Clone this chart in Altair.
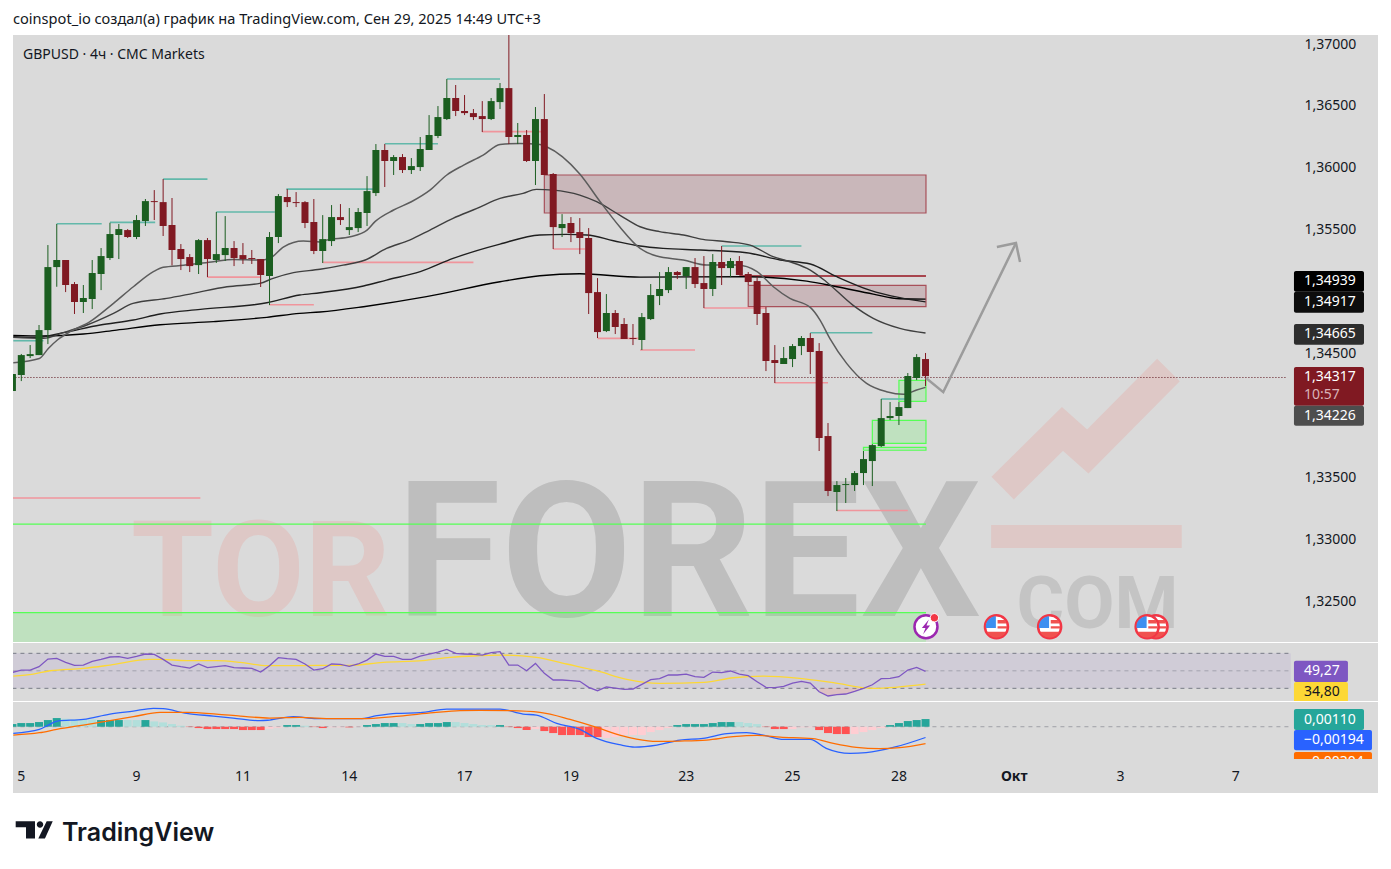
import altair as alt
import pandas as pd

FONT = "Noto Sans"
BG = "#dadada"
GREEN = "#1b5e20"
RED = "#801922"

# ---------- candles (price in 1e-5 units) ----------
open_ = [134197,134326,134479,134487,134689,135198,135255,135061,134916,134940,135142,135271,135457,135497,135441,135570,135731,135723,135538,135344,135279,135214,135416,135255,135295,135352,135295,135271,135263,135126,135441,135764,135723,135723,135562,135328,135408,135602,135497,135513,135635,135796,136144,136055,136087,135982,136006,136144,136257,136394,136564,136459,136442,136418,136394,136531,136644,136249,136265,136055,136394,135950,135513,135554,135481,135433,134996,134681,134827,134738,134625,134609,134778,134964,135012,135158,135126,135198,135069,135021,135239,135190,135247,135142,135085,134827,134447,134415,134455,134560,134625,134520,133833,133381,133437,133437,133534,133631,133752,133978,133995,134059,134302,134455]
close = [134334,134487,134495,134689,135198,135255,135053,134916,134948,135150,135287,135465,135505,135441,135578,135731,135723,135530,135336,135263,135206,135416,135263,135303,135352,135271,135263,135263,135134,135441,135772,135723,135715,135554,135328,135424,135602,135578,135521,135643,135812,136144,136055,136087,135982,136014,136152,136265,136410,136564,136459,136442,136410,136394,136539,136644,136249,136265,136055,136394,135942,135521,135546,135473,135433,134988,134673,134827,134714,134617,134617,134794,134972,135021,135158,135134,135198,135061,135021,135239,135190,135247,135134,135077,134819,134439,134423,134463,134560,134625,134512,133817,133389,133437,133445,133534,133647,133760,133978,133995,134067,134318,134471,134317]
high = [134334,134496,134568,134730,135376,135546,135255,135077,135053,135255,135352,135556,135546,135505,135618,135748,135820,135909,135756,135384,135303,135424,135433,135643,135610,135408,135392,135336,135263,135481,135788,135828,135804,135731,135748,135618,135699,135707,135675,135675,135933,136192,136192,136103,136111,136079,136249,136426,136499,136717,136669,136588,136475,136539,136564,136685,137100,136362,136305,136491,136596,135958,135626,135602,135594,135513,135109,134980,134851,134786,134738,134827,135061,135158,135198,135166,135198,135271,135287,135303,135368,135271,135287,135158,135117,134875,134568,134552,134576,134641,134665,134584,133938,133469,133494,133550,133712,133768,134132,134108,134108,134342,134495,134504]
low = [134197,134277,134463,134487,134576,135039,134996,134819,134827,134859,135012,135255,135263,135433,135424,135530,135578,135449,135212,135174,135158,135142,135117,135231,135247,135206,135223,135223,135037,134891,135392,135683,135683,135513,135303,135231,135368,135538,135457,135481,135530,135772,135845,135942,135958,135950,135974,136144,136240,136386,136418,136426,136386,136289,136386,136475,136192,136192,136047,135861,135942,135344,135441,135400,135303,134819,134625,134673,134657,134617,134568,134528,134770,134891,134988,135101,135021,135029,134867,134964,135053,135117,135134,135053,134730,134358,134261,134415,134390,134487,134334,133712,133348,133227,133292,133389,133437,133429,133744,133962,133922,134059,134285,134237]
bar_index = list(range(-1, len(open_) - 1))

# ---------- moving averages ----------
ma1_x = [-0.9,2.04,3.05,4.07,5.5,7.75,10.4,12.64,14.9,16,18.3,21.66,23.9,26.9,28,29.6,31.8,33.7,34.4,37.1,39,39.9,42,44,46.1,48,49.9,52.1,54,56.25,58.5,59.25,63,65.3,67.5,69.8,71.67,74.68,77.3,80.7,83,84.83,86.7,89,90.1,91.2,93.1,95.35,97.6,99.5,101,102]
ma1_y = [134425,134460,134541,134609,134676,134757,134905,135039,135161,135196,135212,135241,135260,135255,135268,135362,135408,135400,135416,135443,135497,135565,135659,135726,135820,135942,136022,136103,136189,136197,136189,136170,135950,135726,135524,135349,135287,135255,135214,135214,135161,135039,134945,134872,134770,134622,134420,134258,134191,134170,134205,134226]
ma2_x = [-0.9,2.5,4.74,7.4,10.4,12.6,16.4,19.4,23.2,26.9,28.4,30.7,33.7,36.3,38.8,41.2,43.8,46.1,48.7,51.4,54,56.6,58.1,60,63,64.9,67.5,69.8,72,74.7,76.9,79.6,82.2,84.8,86.7,89,90.8,93.8,96.1,99.1,102]
ma2_y = [134630,134622,134668,134730,134824,134905,134945,134986,135039,135066,135107,135153,135180,135214,135255,135349,135416,135497,135592,135672,135753,135793,135826,135820,135780,135726,135618,135524,135484,135457,135422,135403,135376,135282,135241,135174,135080,134891,134784,134703,134665]
ma3_x = [-0.9,1.7,4.74,8.9,12.64,15.65,20.2,27.7,31.4,33.7,38.6,41.2,45,48.7,54,58.5,61.5,63.8,66.8,69.8,72.4,76.6,81.8,85.6,89,92,95.7,99.1,102]
ma3_y = [134635,134630,134668,134730,134770,134819,134856,134910,134972,134991,135045,135093,135161,135268,135384,135457,135462,135457,135411,135368,135349,135336,135314,135255,135223,135120,135012,134951,134917]
ma4_x = [-0.9,2.5,7,10.75,15.65,21.66,27.7,31.4,33.7,38.6,45.7,54,58.5,63,69.8,81.8,88.6,92,96.1,99.1,102]
ma4_y = [134646,134641,134657,134689,134732,134757,134792,134824,134835,134878,134959,135080,135128,135144,135117,135120,135085,135039,134980,134942,134939]

# ---------- liquidity segments: start, end, price ----------
teal_x1 = [-0.9,3.99,10,16,22,29.9,41,48,79,89,97]
teal_x2 = [2.5,9.07,15.1,21,28.6,39.7,47,54,88,96,99.9]
teal_y = [134603,135548,135559,135909,135643,135828,136195,136717,135368,134668,134132]
pink_x1 = [21,28,34,52,60,65,69.8,77,85,92,-1]
pink_x2 = [27,33,51,58.6,63.6,69.8,76,84,91,100,20.2]
pink_y = [135117,134894,135236,136292,135344,134622,134528,134867,134264,133232,133332]

# ---------- zones: x1, x2, top, bottom ----------
red_zone_x1 = [59,82]
red_zone_x2 = [102.05,102.05]
red_zone_top = [135942,135051]
red_zone_bot = [135635,134878]
green_zone_x1 = [99,96,95]
green_zone_x2 = [102.05,102.05,102.05]
green_zone_top = [134283,133960,133742]
green_zone_bot = [134113,133774,133718]
support_top = 132407
support_bot = 132100

# ---------- hand-drawn arrow ----------
arrow_x = [102.05,104,112.2]
arrow_y = [134302,134188,135392]
head_x = [110.05,112.2,112.66]
head_y = [135360,135392,135239]

# ---------- watermark ----------
wm_big = "FOREX"
wm_big_x = 75.3
wm_big_base = 132380
wm_red = "TOR"
wm_red_x = 27
wm_red_base = 132380
wm_com = "COM"
wm_com_x = 121.4
wm_com_base = 132285
wm_arrow_x = [110.7,117.45,120.3,129.4]
wm_arrow_y = [133413,133890,133708,134366]

# ---------- price axis and badges ----------
price_ticks = [1.37,1.365,1.36,1.355,1.345,1.335,1.33,1.325]
badge_text = ["1,34939","1,34917","1,34665","1,34317","1,34226"]
badge_top = [135166,134999,134738,134390,134078]
badge_bot = [134999,134829,134571,134078,133916]
badge_mid = [135083,134914,134654,134310,133997]
badge_fill = ["#000000","#0d0d0d","#2d2d2d",RED,"#4d4d4d"]
last_price = 134306
countdown = "10:57"
countdown_y = 134164

# ---------- event icons ----------
flag_back = [128]
flag_front = [110,116,127]
bolt_x = [102.05]
icon_price = 132292

# ---------- RSI ----------
rsi = [48.2,50.9,50.9,54.7,63.5,64.2,59.7,56.2,56.6,60.8,63.1,65.8,66.2,64.2,66.5,69.2,68.8,63.1,56.6,54.7,53.2,57.8,53.6,54.7,55.9,53.6,53.2,52.8,48.6,55.9,65,63.9,63.1,57.8,50.9,52.4,57.8,57.4,55.1,57.8,62.3,69.2,66.5,66.5,63.1,63.1,66.9,69.2,71.5,74.5,70,69.2,68.8,68,70.7,71.9,56.6,56.6,50.1,58.5,47.1,39.5,39.5,38.7,38,31.1,27.3,31.5,30.3,28.8,29.2,34.5,39.9,41,45.2,45.2,46.3,43.3,42.5,48.6,47.9,49.8,46.3,44.4,37.6,31.1,30.7,32.2,36,38,36,26.1,21.2,22.7,23.5,26.5,30,34.1,41,41.4,43.3,50.9,54,49.3]
rsi_ma_x = [-0.9,1.36,3.24,7,10,14.5,15.65,18.65,22,24.7,27.7,30.3,33.3,37,40.8,45.3,48.35,51.7,54,58.1,61.5,64.9,68.3,72,77,80.3,83.7,87.8,91.6,96.1,102]
rsi_ma_y = [44,46.3,50.1,52.8,56.6,63.1,63.1,61.6,61.6,59.7,55.9,55.9,56.2,56.2,59.7,61.6,65.4,67.3,68,65.4,57.8,50.1,40.2,35.7,36.8,42.1,44,41.4,36.4,30,34.8]

# ---------- MACD (1e-5 units) ----------
hist = [48,66,66,84,120,156,144,132,132,132,120,120,120,120,120,120,96,78,48,18,-6,-24,-42,-42,-42,-42,-60,-60,-60,-36,-18,30,30,18,-6,-24,-12,-12,-12,-6,30,48,66,66,66,48,48,66,66,84,84,66,48,30,30,30,-6,-24,-60,-42,-78,-114,-150,-150,-150,-186,-186,-204,-186,-150,-150,-150,-96,-60,-24,30,48,48,48,66,84,84,84,66,48,-6,-42,-42,-42,-12,-12,-60,-114,-132,-132,-132,-96,-60,-24,30,66,102,120,138]
hist_kind = list("T"*6 + "LLLL" + "TTT" + "LL" + "T" + "LLLL" + "R"*9 + "PP" + "TT" + "L" + "RR" + "PP" + "R" + "P" + "TTTT" + "LL" + "TTTT" + "LLLLL" + "T" + "RRR" + "P" + "R"*7 + "P"*8 + "T"*7 + "LLL" + "RRR" + "PPP" + "RRRR" + "PPPP" + "T"*5)
hist_palette = {"T":"#26a69a","L":"#b2dfdb","R":"#ff5252","P":"#ffcdd2"}
macd_x = [-0.9,2.04,3.05,4.07,7,10,12.64,14.9,16,18.65,21.66,23.9,26.9,28,30.7,33.3,38.2,40.1,42.3,45,48,51.7,54,56.6,58.1,60.4,63,64.9,67.5,69.2,71.7,74.3,76.9,79.6,81.8,83.7,86,89,90.8,93.5,95.3,98.7,102]
macd_y = [-120,-48,30,102,132,228,282,330,324,240,192,156,108,120,180,144,144,198,240,252,318,318,318,228,210,60,-48,-210,-324,-366,-330,-240,-210,-126,-108,-150,-228,-228,-390,-480,-468,-360,-194]
signal_x = [-0.9,2.04,4,7,10,12.64,15.65,18.65,22,24.7,28,31.4,35.2,38.2,42.7,46.5,49.5,51.7,55.1,58.5,61.9,64.9,67.5,69.4,71.7,74.3,77.3,80.3,83,85.6,89.3,91.6,94.2,96.8,99.1,102]
signal_y = [-150,-108,-48,30,108,180,258,258,228,192,156,168,144,144,192,252,288,294,288,258,132,-12,-150,-222,-264,-258,-240,-180,-156,-186,-216,-300,-372,-396,-378,-304]

# ---------- time labels ----------
time_x = [0,13,25,37,50,62,75,87,99,124,137]
time_labels = ["5","9","11","14","17","19","23","25","28","3","7"]
month_x = [112]
month_labels = ["Окт"]

# ===========================================================
X_DOMAIN = [-0.936, 153.04]
W = 1365
RIGHT_X1, RIGHT_TXT = 143.56, 144.69
xs = alt.Scale(domain=X_DOMAIN, nice=False, zero=False, padding=0)
X = alt.X("x:Q", scale=xs, axis=None)
X2 = alt.X2("x2:Q")
yp = alt.Scale(domain=[1.32169, 1.37073], nice=False, zero=False, padding=0)
YP = alt.Y("y:Q", scale=yp, axis=None)
YP2 = alt.Y2("y2:Q")
p = lambda v: [a / 1e5 for a in v]

candles = pd.DataFrame({"x": bar_index, "o": p(open_), "c": p(close), "h": p(high), "l": p(low)})
candles["col"] = [GREEN if c >= o else RED for o, c in zip(open_, close)]

def df(**k):
    return pd.DataFrame(k)

def segs(x1, x2, y):
    return df(x=x1, x2=x2, y=p(y))

def line(x, y, color, w):
    return alt.Chart(df(x=x, y=p(y))).mark_line(color=color, strokeWidth=w, interpolate="monotone", clip=True).encode(X, YP)

def wm_text(word, x, base, size, color):
    return alt.Chart(df(x=[x], y=[base / 1e5], t=[word])).mark_text(
        font="Roboto", fontWeight="bold", fontSize=size, color=color, align="center",
        baseline="alphabetic", clip=True).encode(X, YP, text="t:N")

watermark = [
    wm_text(wm_red, wm_red_x, wm_red_base, 134, "#dec8c6"),
    wm_text(wm_big, wm_big_x, wm_big_base, 190, "#bebebe"),
    wm_text(wm_com, wm_com_x, wm_com_base, 73, "#c4c4c4"),
    alt.Chart(df(x=wm_arrow_x, y=p(wm_arrow_y))).mark_line(color="#dec8c6", strokeWidth=32, strokeCap="butt", strokeJoin="miter", clip=True).encode(X, YP),
    alt.Chart(df(x=[109.4], x2=[130.9], y=[1.33114], y2=[1.32928])).mark_rect(color="#dec8c6", clip=True).encode(X, X2, YP, YP2),
]

def zones(x1, x2, t, b, fill, op, stroke):
    return alt.Chart(df(x=x1, x2=x2, y=p(t), y2=p(b))).mark_rect(
        fill=fill, fillOpacity=op, stroke=stroke, strokeWidth=1.2, clip=True).encode(X, X2, YP, YP2)

zone_layers = [
    alt.Chart(df(x=[-1], x2=[102.05], y=[support_top / 1e5], y2=[support_bot / 1e5])).mark_rect(fill="#55ff55", fillOpacity=0.2, clip=True).encode(X, X2, YP, YP2),
    zones(red_zone_x1, red_zone_x2, red_zone_top, red_zone_bot, "#7f1d2a", 0.18, "#a8505a"),
    zones(green_zone_x1, green_zone_x2, green_zone_top, green_zone_bot, "#55ff55", 0.2, "#55ff55"),
]
other_lines = [
    alt.Chart(df(x=[81], x2=[102.05], y=[1.35126])).mark_rule(color="#a8454e", strokeWidth=2, clip=True).encode(X, X2, YP),
    alt.Chart(df(x=[-1, -1], x2=[102.05, 102.05], y=[1.33122, support_top / 1e5])).mark_rule(color="#55ff55", strokeWidth=1.2, clip=True).encode(X, X2, YP),
    alt.Chart(segs(teal_x1, teal_x2, teal_y)).mark_rule(color="#62b8aa", strokeWidth=1.6, clip=True).encode(X, X2, YP),
    alt.Chart(segs(pink_x1, pink_x2, pink_y)).mark_rule(color="#f0959c", strokeWidth=1.6, clip=True).encode(X, X2, YP),
]
ma_layers = [line(ma4_x, ma4_y, "#000000", 1.4), line(ma3_x, ma3_y, "#1f1f1f", 1.4),
             line(ma2_x, ma2_y, "#3f3f3f", 1.4), line(ma1_x, ma1_y, "#5c5c5c", 1.5)]

wicks = alt.Chart(candles).mark_rule(strokeWidth=1, clip=True).encode(
    X, alt.Y("l:Q", scale=yp, axis=None), alt.Y2("h:Q"), alt.Color("col:N", scale=None))
bodies = alt.Chart(candles).mark_bar(size=7, clip=True).encode(
    X, alt.Y("o:Q", scale=yp, axis=None), alt.Y2("c:Q"), alt.Color("col:N", scale=None))

arrow = [
    alt.Chart(df(x=arrow_x, y=p(arrow_y))).mark_line(color="#9c9c9c", strokeWidth=2.5, clip=True).encode(X, YP),
    alt.Chart(df(x=head_x, y=p(head_y))).mark_line(color="#9c9c9c", strokeWidth=2.5, clip=True).encode(X, YP),
]

# price axis (real axis pulled inside the pane)
axis_layer = alt.Chart(df(x=[0], y=[1.35])).mark_point(opacity=0).encode(
    X,
    alt.Y("y:Q", scale=yp, title=None, axis=alt.Axis(
        orient="right", offset=-74, values=price_ticks, domain=False, ticks=False, grid=False,
        labelAlign="left", labelPadding=0, labelFontSize=14, labelFont=FONT, labelColor="#131722",
        labelExpr="replace(format(datum.value,'.5f'),'.',',')")))

last_line = alt.Chart(df(x=[-1], x2=[142.7], y=[last_price / 1e5])).mark_rule(
    color="#5a0f18", strokeWidth=1, strokeDash=[1, 2], clip=True).encode(X, X2, YP)

badges = [
    alt.Chart(df(x=[RIGHT_X1] * 5, x2=[151.46] * 5, y=p(badge_top), y2=p(badge_bot), f=badge_fill)).mark_rect(cornerRadius=2, clip=True).encode(
        X, X2, YP, YP2, alt.Color("f:N", scale=None)),
    alt.Chart(df(x=[RIGHT_TXT] * 5, y=p(badge_mid), t=badge_text)).mark_text(
        font=FONT, fontSize=14, color="white", align="left", baseline="middle", clip=True).encode(X, YP, text="t:N"),
    alt.Chart(df(x=[RIGHT_TXT], y=[countdown_y / 1e5], t=[countdown])).mark_text(
        font=FONT, fontSize=14, color="#d9b3b8", align="left", baseline="middle", clip=True).encode(X, YP, text="t:N"),
]

# icons
CANTON = "M-0.05,-0.95 A0.95,0.95 0 0 0 -0.95,0.1 L-0.05,0.1 Z"
STRIPES = "M0.1,-0.6 L0.75,-0.6 L0.9,-0.3 L0.1,-0.3 Z M0.1,-0.05 L0.95,-0.05 L0.95,0.15 L0.1,0.15 Z M-0.85,0.45 L0.85,0.45 A0.95,0.95 0 0 1 -0.85,0.45 Z"
BOLT = "M0.28,-0.72 L-0.4,0.12 L-0.05,0.12 L-0.28,0.72 L0.4,-0.12 L0.05,-0.12 Z"

def flags(xlist):
    d = df(x=xlist, y=[icon_price / 1e5] * len(xlist))
    return [
        alt.Chart(d).mark_point(shape="circle", filled=True, fill="white", stroke="#f23645", strokeWidth=2.5, size=530, opacity=1, clip=True).encode(X, YP),
        alt.Chart(d).mark_point(shape=CANTON, filled=True, color="#3d8ff0", size=500, opacity=1, strokeWidth=0, clip=True).encode(X, YP),
        alt.Chart(d).mark_point(shape=STRIPES, filled=True, color="#f0524f", size=500, opacity=1, strokeWidth=0, clip=True).encode(X, YP),
    ]

bd = df(x=bolt_x, y=[icon_price / 1e5])
bolt = [
    alt.Chart(bd).mark_point(shape="circle", filled=True, fill="white", stroke="#9c27b0", strokeWidth=2.5, size=530, opacity=1, clip=True).encode(X, YP),
    alt.Chart(bd).mark_point(shape=BOLT, filled=True, color="#9c27b0", size=420, opacity=1, strokeWidth=0, clip=True).encode(X, YP),
    alt.Chart(df(x=[103], y=[1.32365])).mark_point(shape="circle", filled=True, fill="#f23645", stroke="white", strokeWidth=1, size=70, opacity=1, clip=True).encode(X, YP),
]

sym = alt.Chart(df(t=["GBPUSD · 4ч · CMC Markets"])).mark_text(
    font=FONT, fontSize=14, color="#131722", align="left", baseline="middle", clip=True).encode(
    x=alt.value(10), y=alt.value(20), text="t:N")

pane = alt.ViewBackground(fill=BG, stroke=None)
plain = alt.ViewBackground(fill="white", stroke=None)

main = alt.layer(axis_layer, *watermark, *zone_layers, *other_lines, *ma_layers, last_line, wicks, bodies, *arrow,
                 *badges, *flags(flag_back), *flags(flag_front), *bolt, sym
                 ).resolve_axis(y="independent").properties(width=W, height=607, view=pane)

# RSI pane
yr = alt.Scale(domain=[15.5, 81.8], nice=False, zero=False, padding=0)
YR = alt.Y("y:Q", scale=yr, axis=None)
YR2 = alt.Y2("y2:Q")
rsi_df = df(x=bar_index, y=rsi)
rsi_panel = alt.layer(
    alt.Chart(df(x=[-1], x2=[143.2], y=[70], y2=[30])).mark_rect(color="#7e57c2", opacity=0.1, clip=True).encode(X, X2, YR, YR2),
    alt.Chart(df(x=[-1] * 2, x2=[143.2] * 2, y=[70, 30])).mark_rule(color="#787b86", strokeWidth=1, strokeDash=[4, 4], clip=True).encode(X, X2, YR),
    alt.Chart(df(x=[-1], x2=[143.2], y=[50])).mark_rule(color="#787b86", opacity=0.5, strokeWidth=1, strokeDash=[4, 4], clip=True).encode(X, X2, YR),
    alt.Chart(rsi_df).transform_filter("datum.x>=90 && datum.x<=95").transform_calculate(y2="30").mark_area(color="#f23645", opacity=0.15, clip=True).encode(X, YR, alt.Y2("y2:Q")),
    alt.Chart(df(x=rsi_ma_x, y=rsi_ma_y)).mark_line(color="#fdd835", strokeWidth=1.3, interpolate="monotone", clip=True).encode(X, YR),
    alt.Chart(rsi_df).mark_line(color="#7e57c2", strokeWidth=1.3, clip=True).encode(X, YR),
    alt.Chart(df(x=[RIGHT_X1] * 2, x2=[149.65] * 2, y=[61.5, 37.2], y2=[37.2, 12], f=["#7e57c2", "#fdd835"])).mark_rect(cornerRadius=2, clip=True).encode(X, X2, YR, YR2, alt.Color("f:N", scale=None)),
    alt.Chart(df(x=[RIGHT_TXT] * 2, y=[50.1, 26.1], t=["49,27", "34,80"], f=["white", "#131722"])).mark_text(font=FONT, fontSize=14, align="left", baseline="middle", clip=True).encode(X, YR, alt.Color("f:N", scale=None), text="t:N"),
).properties(width=W, height=58, view=pane)

# MACD pane
ym = alt.Scale(domain=[-0.00581, 0.00445], nice=False, zero=False, padding=0)
YM = alt.Y("y:Q", scale=ym, axis=None)
YM2 = alt.Y2("y2:Q")
hist_df = df(x=bar_index, y=p(hist), y2=[0.0] * len(hist), f=[hist_palette[k] for k in hist_kind])
macd_panel = alt.layer(
    alt.Chart(df(x=[-1], x2=[143.2], y=[0.0])).mark_rule(color="#787b86", opacity=0.6, strokeWidth=1, strokeDash=[4, 4], clip=True).encode(X, X2, YM),
    alt.Chart(hist_df).mark_bar(size=8, clip=True).encode(X, YM, YM2, alt.Color("f:N", scale=None)),
    alt.Chart(df(x=macd_x, y=p(macd_y))).mark_line(color="#2962ff", strokeWidth=1.3, interpolate="monotone", clip=True).encode(X, YM),
    alt.Chart(df(x=signal_x, y=p(signal_y))).mark_line(color="#ff6d00", strokeWidth=1.3, interpolate="monotone", clip=True).encode(X, YM),
    alt.Chart(df(x=[RIGHT_X1] * 3, x2=[151.46, 152.36, 152.36], y=[0.00319, -0.00059, -0.00455], y2=[-0.00059, -0.00425, -0.0065], f=["#26a69a", "#2962ff", "#ff6d00"])).mark_rect(cornerRadius=2, clip=True).encode(X, X2, YM, YM2, alt.Color("f:N", scale=None)),
    alt.Chart(df(x=[RIGHT_TXT] * 3, y=[0.0013, -0.00239, -0.00635], t=["0,00110", "−0,00194", "−0,00304"])).mark_text(font=FONT, fontSize=14, color="white", align="left", baseline="middle", clip=True).encode(X, YM, text="t:N"),
).properties(width=W, height=57, view=pane)

# time axis pane
time_panel = alt.layer(
    alt.Chart(df(x=time_x, t=time_labels)).mark_text(font=FONT, fontSize=14, color="#131722", baseline="middle", clip=True).encode(X, y=alt.value(18), text="t:N"),
    alt.Chart(df(x=month_x, t=month_labels)).mark_text(font=FONT, fontSize=14, fontWeight="bold", color="#131722", baseline="middle", clip=True).encode(X, y=alt.value(18), text="t:N"),
).properties(width=W, height=34, view=pane)

# header and footer
header = alt.Chart(df(t=["coinspot_io создал(а) график на TradingView.com, Сен 29, 2025 14:49 UTC+3"])).mark_text(
    font=FONT, fontSize=14.6, color="#131722", align="left", baseline="middle").encode(
    x=alt.value(0), y=alt.value(12), text="t:N").properties(width=W, height=26, view=plain)

TV = ("M-0.99,-0.46 L0.026,-0.46 L0.026,0.447 L-0.447,0.447 L-0.447,-0.145 L-0.99,-0.145 Z "
      "M0.12,-0.29 A0.17,0.17 0 1 1 0.46,-0.29 A0.17,0.17 0 1 1 0.12,-0.29 Z "
      "M0.2,0.447 L0.64,-0.46 L0.96,-0.46 L0.55,0.447 Z")
footer = alt.layer(
    alt.Chart(df(t=["logo"])).mark_point(shape=TV, filled=True, color="#131722", size=1444, opacity=1, strokeWidth=0).encode(x=alt.value(21.5), y=alt.value(36)),
    alt.Chart(df(t=["TradingView"])).mark_text(font="Inter", fontSize=25, fontWeight=600, color="#131722", align="left", baseline="middle").encode(x=alt.value(49), y=alt.value(38.5), text="t:N"),
).properties(width=W, height=56, view=plain)

lower = alt.vconcat(macd_panel, time_panel, spacing=0)
chart = alt.vconcat(header, main, rsi_panel, lower, footer, spacing=1, background="white",
                    padding={"left": 5, "top": 0, "right": 0, "bottom": 0}
                    ).configure_view(stroke=None)

chart.save("out.html", embed_options={"renderer": "svg", "actions": False})
